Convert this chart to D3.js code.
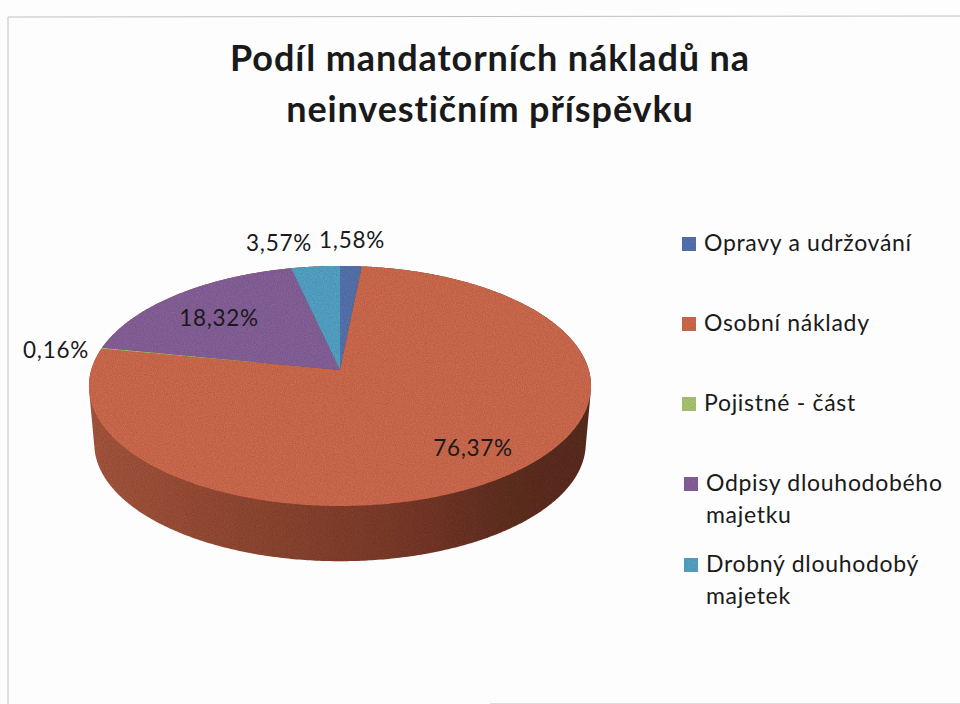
<!DOCTYPE html>
<html>
<head>
<meta charset="utf-8">
<script src="https://cdnjs.cloudflare.com/ajax/libs/d3/7.8.5/d3.min.js"></script>
<style>
  html, body { margin: 0; padding: 0; background: #fdfdfd; overflow: hidden; }
  text { font-family: Lato, "Open Sans", sans-serif; fill: #1a1a1a; }
</style>
</head>
<body>
<div id="chart"></div>
<script>
// Podíl mandatorních nákladů - 3D pie in perspective
const shares = [1.58, 76.37, 0.16, 18.32, 3.57];
const shareLabels = ["1,58%", "76,37%", "0,16%", "18,32%", "3,57%"];
const titleLines = ["Podíl mandatorních nákladů na", "neinvestičním příspěvku"];
const legendLines = [["Opravy a udržování"], ["Osobní náklady"], ["Pojistné - část"], ["Odpisy dlouhodobého", "majetku"], ["Drobný dlouhodobý", "majetek"]];
const colors = ["#5674b0", "#d06c50", "#aac874", "#87629b", "#55a4c8"];

const width = 960;
const height = 704;

const svg = d3.select("#chart").append("svg")
    .attr("width", width)
    .attr("height", height)
    .style("display", "block");

svg.append("rect").attr("width", width).attr("height", height).attr("fill", "#fdfdfd");

// thin scanned frame
const frame = svg.append("g").attr("stroke", "#c0c0c0").attr("fill", "none");
frame.append("path").attr("d", d3.line()([[8, 704], [8, 17], [960, 16]])).attr("stroke-width", 1);
frame.append("path").attr("d", d3.line()([[490, 703.5], [960, 703.5]])).attr("stroke", "#dcdcdc");

// title
svg.append("g").selectAll("text")
    .data(titleLines)
    .join("text")
    .attr("x", 490)
    .attr("y", (d, i) => 71 + i * 51)
    .attr("text-anchor", "middle")
    .style("font-size", "36px")
    .style("font-weight", "700")
    .style("letter-spacing", "0.9px")
    .text(d => d);

// projection of the pie disc: k gives the perspective foreshortening
const apex = { x: 340, y: 370 };
const k = 0.133;
function project(angle, rx, ry, dy) {
    const u = Math.sin(angle), v = Math.cos(angle);
    const w = 1 + k * v;
    return [apex.x + rx * u / w, apex.y + dy - ry * v / w];
}
const topDisc = a => project(a, 248.8, 117.9, 0);
const bottomDisc = a => project(a, 243.5, 115.5, 58);

const slices = d3.pie().sort(null).value(d => d)(shares);

function arcPoints(fn, a0, a1) {
    const n = Math.max(2, Math.ceil((a1 - a0) / 0.01));
    return d3.range(n + 1).map(i => fn(a0 + (a1 - a0) * i / n));
}

const defs = svg.append("defs");
const sideGrad = defs.append("linearGradient").attr("id", "side");
sideGrad.selectAll("stop")
    .data([[0, "#a8573f"], [0.3, "#934a35"], [0.62, "#7c3b2b"], [0.85, "#603023"], [1, "#5a2d22"]])
    .join("stop")
    .attr("offset", d => d[0])
    .attr("stop-color", d => d[1]);

// paper grain from the scan
const grain = defs.append("filter").attr("id", "grain")
    .attr("x", 0).attr("y", 0).attr("width", 1).attr("height", 1);
grain.append("feTurbulence").attr("type", "fractalNoise").attr("baseFrequency", 0.9).attr("numOctaves", 2).attr("seed", 4).attr("result", "n");
grain.append("feColorMatrix").attr("in", "n").attr("type", "matrix")
    .attr("values", "0 0 0 0 0  0 0 0 0 0  0 0 0 0 0  0.5 0 0 0 -0.13").attr("result", "a");
grain.append("feComposite").attr("in", "a").attr("in2", "SourceGraphic").attr("operator", "in").attr("result", "b");
grain.append("feMerge").selectAll("feMergeNode").data(["SourceGraphic", "b"]).join("feMergeNode").attr("in", d => d);

const pie = svg.append("g").attr("filter", "url(#grain)");

// side wall: hull of both rims, the top face then covers the back of it
const fullCircle = arcPoints(topDisc, 0, 2 * Math.PI).concat(arcPoints(bottomDisc, 0, 2 * Math.PI));
pie.append("path")
    .attr("d", "M" + d3.polygonHull(fullCircle).join("L") + "Z")
    .attr("fill", "url(#side)");

const topLine = d3.line();
pie.selectAll("path.slice")
    .data(slices)
    .join("path")
    .attr("class", "slice")
    .attr("d", d => topLine([[apex.x, apex.y], ...arcPoints(topDisc, d.startAngle, d.endAngle)]) + "Z")
    .attr("fill", (d, i) => colors[i]);

// data labels
const labelPos = [[352, 248], [473, 456], [56, 358], [219, 326], [279, 251]];
svg.append("g").selectAll("text")
    .data(shareLabels)
    .join("text")
    .attr("x", (d, i) => labelPos[i][0])
    .attr("y", (d, i) => labelPos[i][1])
    .attr("text-anchor", "middle")
    .style("font-size", "22.5px")
    .style("letter-spacing", "0.7px")
    .text(d => d);

// legend
const legendPos = [[682, 251], [682, 331], [682, 411], [684, 491], [684, 572]];
const legend = svg.append("g").selectAll("g")
    .data(legendLines)
    .join("g")
    .attr("transform", (d, i) => `translate(${legendPos[i][0]},${legendPos[i][1]})`);

legend.append("rect")
    .attr("y", -14)
    .attr("width", 14)
    .attr("height", 14)
    .attr("fill", (d, i) => colors[i])
    .attr("filter", "url(#grain)");

legend.selectAll("text")
    .data(d => d)
    .join("text")
    .attr("x", 22)
    .attr("y", (d, i) => i * 32)
    .style("font-size", "23px")
    .style("letter-spacing", "0.7px")
    .text(d => d);
</script>
</body>
</html>
